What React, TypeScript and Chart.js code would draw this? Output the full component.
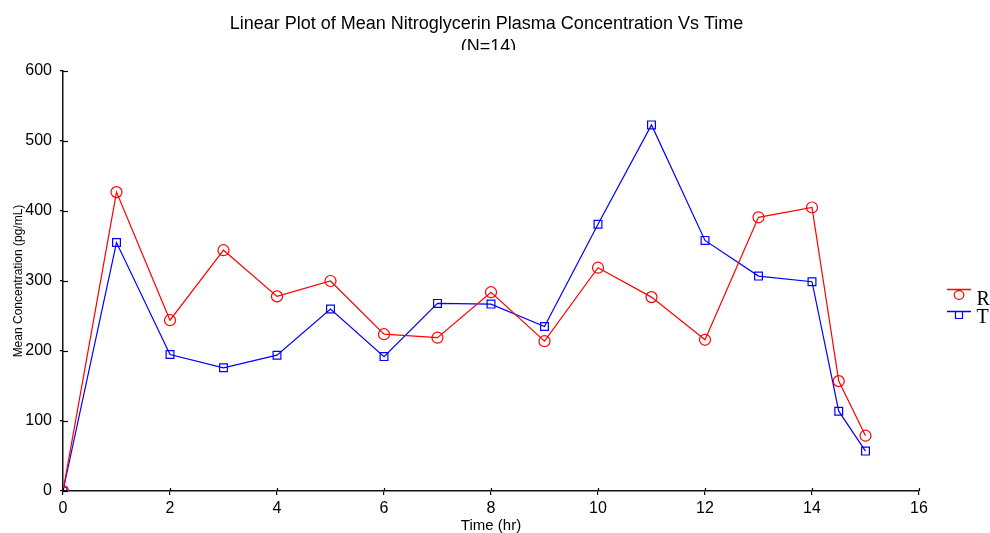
import React, { useEffect, useRef } from "react";
import { Chart, registerables } from "chart.js";

Chart.register(...registerables);

const titleLines = ["Linear Plot of Mean Nitroglycerin Plasma Concentration Vs Time", "(N=14)"];
const xTitle = "Time (hr)";
const yTitle = "Mean Concentration (pg/mL)";
const times = [0, 1, 2, 3, 4, 5, 6, 7, 8, 9, 10, 11, 12, 13, 14, 14.5, 15];
const seriesR = [0, 427, 244, 344, 278, 300, 224, 219, 284, 214, 319, 277, 216, 391, 405, 157, 79];
const seriesT = [0, 355, 195, 176, 194, 260, 192, 268, 267, 235, 381, 523, 358, 307, 299, 114, 57];
const seriesNames = ["R", "T"];
const seriesColors = ["#ff0000", "#0000ff"];
const seriesMarkers = ["circle", "rect"];

const SANS = "'Liberation Sans', Arial, Helvetica, sans-serif";
const SERIF = "'Liberation Serif', 'Times New Roman', serif";

const decorPlugin = {
  id: "decor",
  afterDraw(chart: any) {
    const ctx = chart.ctx;
    const xs = chart.scales.x;
    const ys = chart.scales.y;
    ctx.save();
    // inner tick halves
    ctx.strokeStyle = "#000";
    ctx.lineWidth = 1.2;
    const ca = chart.chartArea;
    xs.ticks.forEach((t: any) => {
      const px = Math.round(xs.getPixelForValue(t.value)) + 0.5;
      ctx.beginPath();
      ctx.moveTo(px, ca.bottom);
      ctx.lineTo(px, ca.bottom - 3);
      ctx.stroke();
    });
    ys.ticks.forEach((t: any) => {
      const py = Math.round(ys.getPixelForValue(t.value)) + 0.5;
      ctx.beginPath();
      ctx.moveTo(ca.left, py);
      ctx.lineTo(ca.left + 5, py);
      ctx.stroke();
    });
    // title
    ctx.fillStyle = "#000";
    ctx.textAlign = "center";
    ctx.textBaseline = "alphabetic";
    ctx.font = "18px " + SANS;
    ctx.fillText(titleLines[0], 486.5, 28.5);
    ctx.save();
    ctx.beginPath();
    ctx.rect(0, 0, 990, 50);
    ctx.clip();
    ctx.fillText(titleLines[1], 488.5, 52);
    ctx.restore();
    // legend
    const rows = [
      { y: 289.5, my: 295, text: 305 },
      { y: 311.5, my: 315, text: 323 },
    ];
    rows.forEach((r, i) => {
      ctx.strokeStyle = seriesColors[i];
      ctx.lineWidth = 1.5;
      ctx.beginPath();
      ctx.moveTo(947, r.y);
      ctx.lineTo(971, r.y);
      ctx.stroke();
      ctx.lineWidth = 1.2;
      ctx.beginPath();
      if (seriesMarkers[i] === "circle") {
        ctx.ellipse(959, r.my, 4.8, 4.3, 0, 0, Math.PI * 2);
      } else {
        ctx.rect(955.5, r.my - 3.5, 7, 7);
      }
      ctx.stroke();
      ctx.fillStyle = "#000";
      ctx.textAlign = "left";
      ctx.font = "20px " + SERIF;
      ctx.fillText(seriesNames[i], 976.5, r.text);
    });
    ctx.restore();
  },
};

export default function App() {
  const ref = useRef<HTMLCanvasElement>(null);
  useEffect(() => {
    if (!ref.current) return;
    const mk = (vals: number[], i: number) => ({
      label: seriesNames[i],
      data: times.map((t, k) => ({ x: t, y: vals[k] })),
      borderColor: seriesColors[i],
      backgroundColor: "rgba(0,0,0,0)",
      borderWidth: 1.2,
      pointStyle: seriesMarkers[i],
      pointRadius: 5.5,
      pointBorderWidth: 1.2,
      pointBorderColor: seriesColors[i],
      pointBackgroundColor: "rgba(0,0,0,0)",
      tension: 0,
    });
    const chart = new Chart(ref.current, {
      type: "line",
      data: { datasets: [mk(seriesR, 0), mk(seriesT, 1)] },
      options: {
        animation: false,
        responsive: false,
        devicePixelRatio: 1,
        layout: { padding: { top: 71, right: 71, left: 0, bottom: 0 } },
        plugins: {
          legend: { display: false },
          title: { display: false },
          tooltip: { enabled: false },
        },
        scales: {
          x: {
            type: "linear",
            min: 0,
            max: 16,
            afterFit: (s: any) => {
              s.height = 42;
            },
            ticks: {
              stepSize: 2,
              color: "#000",
              font: { size: 16, family: SANS },
              padding: 4,
              maxRotation: 0,
            },
            grid: { drawOnChartArea: false, drawTicks: true, tickLength: 4, color: "#000", lineWidth: 1.2 },
            border: { display: true, color: "#111", width: 1.5 },
            title: {
              display: true,
              text: xTitle,
              color: "#000",
              font: { size: 15, family: SANS, lineHeight: 1 },
              padding: { top: 0, bottom: 0 },
            },
          },
          y: {
            type: "linear",
            min: 0,
            max: 600,
            afterFit: (s: any) => {
              s.width = 63;
            },
            ticks: {
              stepSize: 100,
              color: "#000",
              font: { size: 16, family: SANS },
              padding: 8,
            },
            grid: { drawOnChartArea: false, drawTicks: true, tickLength: 3, color: "#000", lineWidth: 1.2 },
            border: { display: true, color: "#111", width: 1.5 },
            title: {
              display: true,
              text: yTitle,
              color: "#000",
              font: { size: 12, family: SANS },
              padding: { top: 11, bottom: 0 },
            },
          },
        },
      },
      plugins: [decorPlugin],
    });
    return () => chart.destroy();
  }, []);
  return (
    <div style={{ position: "fixed", left: 0, top: 0, width: 990, height: 533, background: "#fff" }}>
      <canvas ref={ref} width={990} height={533} style={{ width: 990, height: 533, display: "block" }} />
    </div>
  );
}
